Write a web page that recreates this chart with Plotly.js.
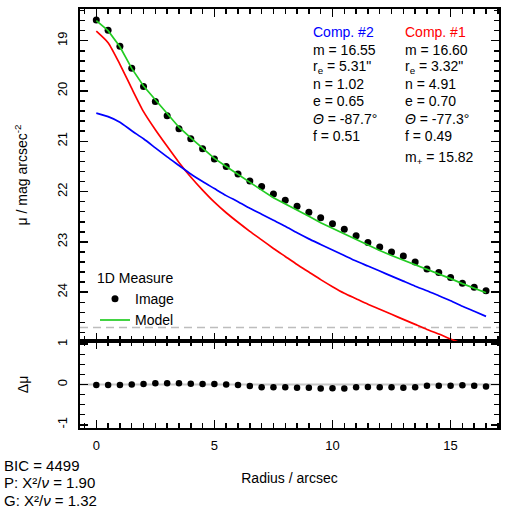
<!DOCTYPE html>
<html>
<head>
<meta charset="utf-8">
<script src="https://cdn.plot.ly/plotly-3.0.1.min.js"></script>
<style>
  html, body { margin: 0; padding: 0; background: #ffffff; }
  #chart { width: 508px; height: 510px; }
</style>
</head>
<body>
<div id="chart"></div>
<script>
// ---------------- data ----------------
const radius = [0, 0.5, 1, 1.5, 2, 2.5, 3, 3.5, 4, 4.5, 5, 5.5, 6, 6.5, 7, 7.5, 8, 8.5,
                9, 9.5, 10, 10.5, 11, 11.5, 12, 12.5, 13, 13.5, 14, 14.5, 15, 15.5, 16, 16.5];

const muImage = [18.59, 18.79, 19.11, 19.55, 19.91, 20.21, 20.49, 20.75, 20.95, 21.15, 21.35, 21.50,
                 21.65, 21.79, 21.90, 22.05, 22.17, 22.29, 22.41, 22.52, 22.64, 22.75, 22.88, 23.01,
                 23.10, 23.20, 23.28, 23.40, 23.54, 23.61, 23.71, 23.82, 23.90, 23.97];

const muModel = [18.60, 18.80, 19.12, 19.55, 19.90, 20.18, 20.46, 20.72, 20.93, 21.14, 21.34, 21.50,
                 21.66, 21.82, 21.97, 22.12, 22.24, 22.37, 22.49, 22.62, 22.73, 22.85, 22.96, 23.07,
                 23.17, 23.27, 23.36, 23.46, 23.55, 23.64, 23.73, 23.83, 23.92, 24.01];

const muComp1 = [18.81, 19.04, 19.47, 19.95, 20.41, 20.77, 21.10, 21.42, 21.71, 21.97, 22.21, 22.42,
                 22.61, 22.79, 22.96, 23.13, 23.29, 23.45, 23.60, 23.75, 23.89, 24.02, 24.13, 24.24,
                 24.34, 24.44, 24.54, 24.64, 24.74, 24.83, 24.93, 25.02, 25.11, 25.20];

const muComp2 = [20.44, 20.51, 20.62, 20.79, 20.95, 21.13, 21.31, 21.48, 21.65, 21.80, 21.94, 22.08,
                 22.20, 22.33, 22.45, 22.57, 22.69, 22.82, 22.94, 23.05, 23.16, 23.27, 23.38, 23.48,
                 23.58, 23.68, 23.78, 23.88, 23.97, 24.07, 24.17, 24.28, 24.38, 24.48];

const residual = [-0.01, -0.01, -0.01, 0.00, 0.01, 0.03, 0.03, 0.03, 0.02, 0.01, 0.01, 0.00,
                  -0.01, -0.04, -0.07, -0.07, -0.07, -0.08, -0.08, -0.10, -0.09, -0.10, -0.07, -0.06,
                  -0.07, -0.07, -0.08, -0.07, -0.03, -0.03, -0.03, -0.02, -0.03, -0.05];

const skyLevel = [24.70];
const residualZero = [0];

const comp2Text = ['Comp. #2', 'm = 16.55', 'r<sub>e</sub> = 5.31"', 'n = 1.02', 'e = 0.65',
                   '<i>Θ</i> = -87.7°', 'f = 0.51'];
const comp1Text = ['Comp. #1', 'm = 16.60', 'r<sub>e</sub> = 3.32"', 'n = 4.91', 'e = 0.70',
                   '<i>Θ</i> = -77.3°', 'f = 0.49', 'm<sub>+</sub> = 15.82'];
const fitStats = ['BIC = 4499', 'P: X²/<i>ν</i> = 1.90', 'G: X²/<i>ν</i> = 1.32'];

const xTickVals = [0, 5, 10, 15];
const muTickVals = [19, 20, 21, 22, 23, 24];
const resTickVals = [-1, 0, 1];

// ---------------- layout helpers ----------------
const W = 508, H = 510;
const M = {l: 80, r: 9, t: 9, b: 82};
const plotW = W - M.l - M.r, plotH = H - M.t - M.b;
const px2x = p => (p - M.l) / plotW;
const px2y = p => (H - M.b - p) / plotH;
const split = px2y(341);

const FONT = 'Liberation Sans, Arial, Helvetica, sans-serif';
const RED = '#ff0000', BLUE = '#0000ff', GREEN = '#22cc22';

const traces = [
  {x: radius, y: muComp1, xaxis: 'x2', yaxis: 'y2', type: 'scatter', mode: 'lines',
   line: {color: RED, width: 1.7, shape: 'spline', smoothing: 0.6}, showlegend: false, name: 'Comp. #1'},
  {x: radius, y: muComp2, xaxis: 'x2', yaxis: 'y2', type: 'scatter', mode: 'lines',
   line: {color: BLUE, width: 1.7, shape: 'spline', smoothing: 0.6}, showlegend: false, name: 'Comp. #2'},
  {x: radius, y: muImage, xaxis: 'x2', yaxis: 'y2', type: 'scatter', mode: 'markers',
   marker: {color: 'black', size: 7}, name: 'Image'},
  {x: radius, y: muModel, xaxis: 'x2', yaxis: 'y2', type: 'scatter', mode: 'lines',
   line: {color: GREEN, width: 1.7}, name: 'Model'},
  {x: radius, y: residual, xaxis: 'x', yaxis: 'y', type: 'scatter', mode: 'markers',
   marker: {color: 'black', size: 6.5}, showlegend: false, name: 'Residual'}
];

const axisCommon = {
  showline: true, linecolor: 'black', linewidth: 2, mirror: 'allticks',
  ticks: 'inside', ticklen: 8, tickwidth: 1.5, tickcolor: 'black',
  showgrid: false, zeroline: false,
  tickfont: {family: FONT, size: 13, color: 'black'}
};

const annotations = [];
const rowY0 = 32.3, rowStep = 17.3;
comp2Text.forEach((t, i) => annotations.push({
  xref: 'paper', yref: 'paper', x: px2x(311), y: px2y(rowY0 + i * rowStep),
  xanchor: 'left', yanchor: 'middle', showarrow: false, text: t,
  font: {family: FONT, size: 14, color: i === 0 ? BLUE : 'black'}
}));
comp1Text.forEach((t, i) => annotations.push({
  xref: 'paper', yref: 'paper', x: px2x(403), y: px2y(rowY0 + i * rowStep + (i === 7 ? 5 : 0)),
  xanchor: 'left', yanchor: 'middle', showarrow: false, text: t,
  font: {family: FONT, size: 14, color: i === 0 ? RED : 'black'}
}));
fitStats.forEach((t, i) => annotations.push({
  xref: 'paper', yref: 'paper', x: px2x(2), y: px2y(465 + i * 17.5),
  xanchor: 'left', yanchor: 'middle', showarrow: false, text: t,
  font: {family: FONT, size: 15, color: 'black'}
}));

const layout = {
  width: W, height: H,
  margin: M,
  paper_bgcolor: 'white', plot_bgcolor: 'white',
  font: {family: FONT, size: 14, color: 'black'},
  showlegend: true,
  legend: {
    x: px2x(95), y: px2y(265), xanchor: 'left', yanchor: 'top',
    bgcolor: 'rgba(0,0,0,0)', borderwidth: 0,
    font: {family: FONT, size: 14, color: 'black'},
    title: {text: '1D Measure', font: {family: FONT, size: 14, color: 'black'}},
    tracegroupgap: 0
  },
  xaxis: Object.assign({}, axisCommon, {
    domain: [0, 1], anchor: 'y', range: [-0.69, 17.05],
    tickmode: 'array', tickvals: xTickVals, ticktext: xTickVals.map(String),
    minor: {dtick: 0.5, tick0: 0, ticks: 'inside', ticklen: 5, tickwidth: 1.5, tickcolor: 'black'},
    ticklabelstandoff: 4,
    title: {text: 'Radius / arcsec', font: {family: FONT, size: 14, color: 'black'}, standoff: 22}
  }),
  xaxis2: Object.assign({}, axisCommon, {
    domain: [0, 1], anchor: 'y2', matches: 'x', range: [-0.69, 17.05],
    tickmode: 'array', tickvals: xTickVals, showticklabels: false,
    minor: {dtick: 0.5, tick0: 0, ticks: 'inside', ticklen: 5, tickwidth: 1.5, tickcolor: 'black'}
  }),
  yaxis: Object.assign({}, axisCommon, {
    domain: [0, split], anchor: 'x', range: [-1.08, 1.08],
    tickmode: 'array', tickvals: resTickVals, ticktext: resTickVals.map(String),
    tickangle: -90,
    minor: {dtick: 0.25, tick0: 0, ticks: 'inside', ticklen: 5, tickwidth: 1.5, tickcolor: 'black'},
    ticklabelstandoff: 6,
    title: {text: 'Δμ', font: {family: FONT, size: 14, color: 'black'}, standoff: 23}
  }),
  yaxis2: Object.assign({}, axisCommon, {
    domain: [split, 1], anchor: 'x2', range: [24.97, 18.37],
    tickmode: 'array', tickvals: muTickVals, ticktext: muTickVals.map(String),
    tickangle: -90,
    minor: {dtick: 0.2, tick0: 0, ticks: 'inside', ticklen: 5, tickwidth: 1.5, tickcolor: 'black'},
    ticklabelstandoff: 6,
    title: {text: 'μ / mag arcsec<sup>-2</sup>', font: {family: FONT, size: 14, color: 'black'}, standoff: 24}
  }),
  shapes: [
    {type: 'line', xref: 'paper', x0: 0, x1: 1, yref: 'y2', y0: skyLevel[0], y1: skyLevel[0],
     line: {color: '#bdbdbd', width: 1.5, dash: '8px,5px'}, layer: 'below'},
    {type: 'line', xref: 'paper', x0: 0, x1: 1, yref: 'y', y0: residualZero[0], y1: residualZero[0],
     line: {color: '#c8c8c8', width: 2}, layer: 'below'}
  ],
  annotations: annotations
};

Plotly.newPlot('chart', traces, layout, {staticPlot: true, displayModeBar: false});
</script>
</body>
</html>
